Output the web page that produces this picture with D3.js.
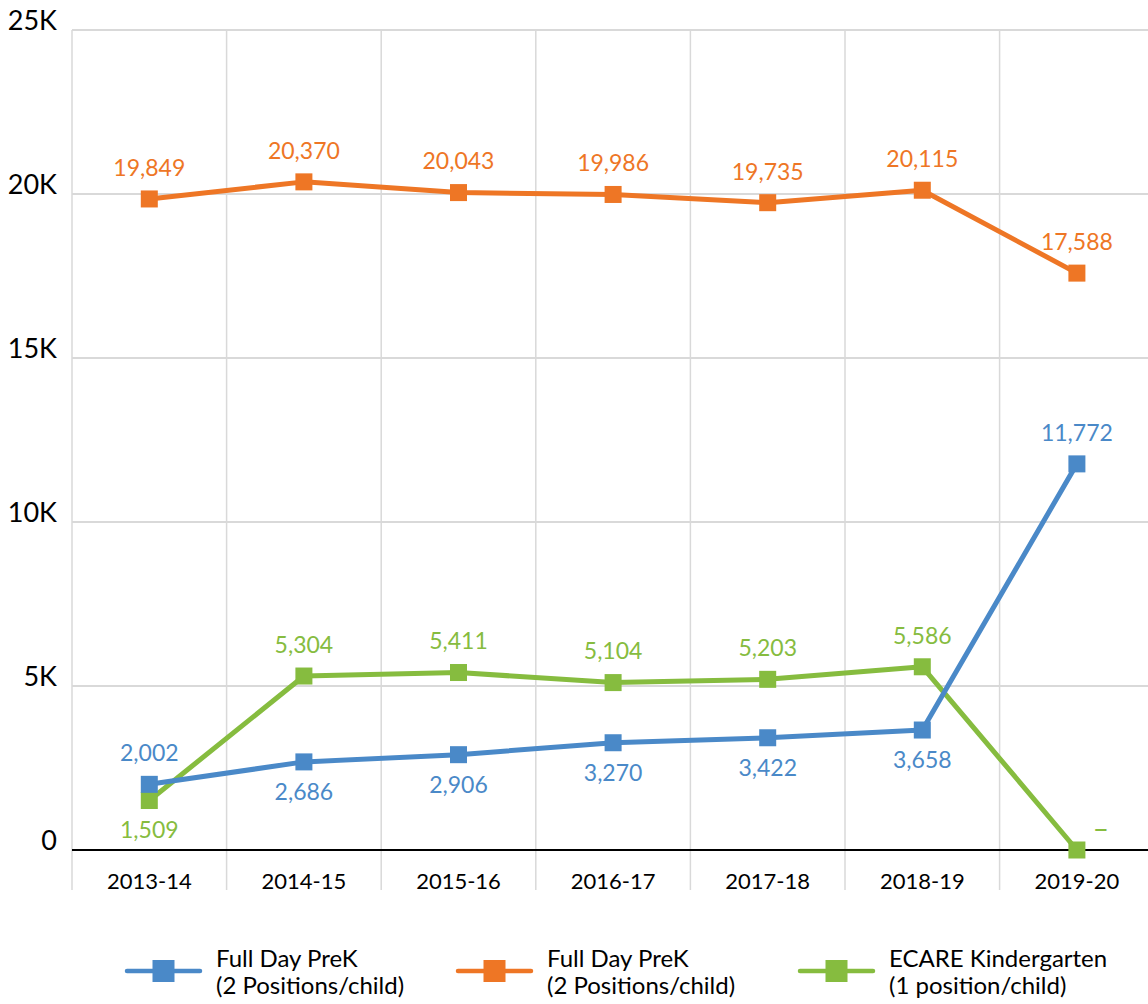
<!DOCTYPE html>
<html><head><meta charset="utf-8">
<script src="https://cdn.jsdelivr.net/npm/d3@7"></script>
<style>body{margin:0;background:#fff}svg{display:block;font-family:Lato,"Open Sans",sans-serif}</style>
</head><body><svg id="c" width="1148" height="1004"></svg>
<script>
const categories = ["2013-14","2014-15","2015-16","2016-17","2017-18","2018-19","2019-20"];
const prekBlue = [2002,2686,2906,3270,3422,3658,11772];
const prekOrange = [19849,20370,20043,19986,19735,20115,17588];
const ecare = [1509,5304,5411,5104,5203,5586,0];
const yTicks = [0,5000,10000,15000,20000,25000];
const yTickLabels = ["0","5K","10K","15K","20K","25K"];
const seriesNames = [["Full Day PreK","(2 Positions/child)"],["Full Day PreK","(2 Positions/child)"],["ECARE Kindergarten","(1 position/child)"]];
const colors = ["#4a89c8","#ee7625","#86bc3f"];
// label placement: 1 = above, -1 = below, 2 = above-right
const blueLabelPos = [1,-1,-1,-1,-1,-1,1];
const orangeLabelPos = [1,1,1,1,1,1,1];
const ecareLabelPos = [-1,1,1,1,1,1,2];
const ecareLabels = ["1,509","5,304","5,411","5,104","5,203","5,586","–"];

const svg = d3.select("#c");
const left = 72, bandW = 154.6;
const x = d3.scaleBand().domain(categories).range([left, left + bandW*7]);
const y = d3.scaleLinear().domain([0,25000]).range([850,30]);

// horizontal grid
svg.append("g").selectAll("line").data(yTicks.slice(1)).join("line")
  .attr("x1",left).attr("x2",1148).attr("y1",d=>y(d)).attr("y2",d=>y(d))
  .attr("stroke","#d9d9d9").attr("stroke-width",2);
// vertical grid (category boundaries)
const bounds = categories.map(c=>x(c)).concat([x.range()[1]]);
svg.append("g").selectAll("line").data(bounds).join("line")
  .attr("x1",d=>d).attr("x2",d=>d).attr("y1",y(25000)).attr("y2",890)
  .attr("stroke","#d9d9d9").attr("stroke-width",1.5);
// x axis line
svg.append("line").attr("x1",left).attr("x2",1148).attr("y1",y(0)).attr("y2",y(0))
  .attr("stroke","#000").attr("stroke-width",2);

// y tick labels
svg.append("g").selectAll("text").data(yTicks).join("text")
  .attr("x",57).attr("y",(d)=>y(d)-7).attr("text-anchor","end").attr("dominant-baseline","middle")
  .attr("font-size",27).attr("fill","#000").text((d,i)=>yTickLabels[i]);
// x labels
svg.append("g").selectAll("text").data(categories).join("text")
  .attr("x",d=>x(d)+x.bandwidth()/2).attr("y",883).attr("text-anchor","middle")
  .attr("dominant-baseline","middle").attr("font-size",22).attr("fill","#000").text(d=>d);

const fmt = d3.format(",");
const cx = c => x(c)+x.bandwidth()/2;
const series = [
  {vals:prekBlue, color:colors[0], pos:blueLabelPos, labels:prekBlue.map(fmt)},
  {vals:prekOrange, color:colors[1], pos:orangeLabelPos, labels:prekOrange.map(fmt)},
  {vals:ecare, color:colors[2], pos:ecareLabelPos, labels:ecareLabels}
];
const drawOrder = [2,1,0];
const line = d3.line().x((d,i)=>cx(categories[i])).y(d=>y(d));
drawOrder.forEach(k=>{
  const s = series[k];
  const g = svg.append("g");
  g.append("path").attr("d",line(s.vals)).attr("fill","none").attr("stroke",s.color)
   .attr("stroke-width",5).attr("stroke-linejoin","round");
  g.selectAll("rect").data(s.vals).join("rect")
   .attr("x",(d,i)=>cx(categories[i])-8.5).attr("y",d=>y(d)-8.5).attr("width",17).attr("height",17)
   .attr("fill",s.color);
});
drawOrder.forEach(k=>{
  const s = series[k];
  svg.append("g").selectAll("text").data(s.vals).join("text")
   .attr("x",(d,i)=>cx(categories[i]) + (s.pos[i]===2?24:0))
   .attr("y",(d,i)=>y(d) + (s.pos[i]===1?-29:(s.pos[i]===-1?32:-18)))
   .attr("text-anchor","middle").attr("dominant-baseline","middle")
   .attr("font-size",(d,i)=>s.pos[i]===2?28:23).attr("fill",s.color).text((d,i)=>s.labels[i]);
});

// legend
const legX = [127,458,800];
seriesNames.forEach((n,i)=>{
  const g = svg.append("g");
  g.append("line").attr("x1",legX[i]).attr("x2",legX[i]+73).attr("y1",971).attr("y2",971)
   .attr("stroke",colors[i]).attr("stroke-width",4.5).attr("stroke-linecap","round");
  g.append("rect").attr("x",legX[i]+36.5-11).attr("y",971-11).attr("width",22).attr("height",22).attr("fill",colors[i]);
  g.append("text").attr("x",legX[i]+89).attr("y",967)
   .attr("font-size",24).attr("fill","#000").text(n[0]);
  g.append("text").attr("x",legX[i]+89).attr("y",994)
   .attr("font-size",24).attr("fill","#000").text(n[1]);
});
</script></body></html>
